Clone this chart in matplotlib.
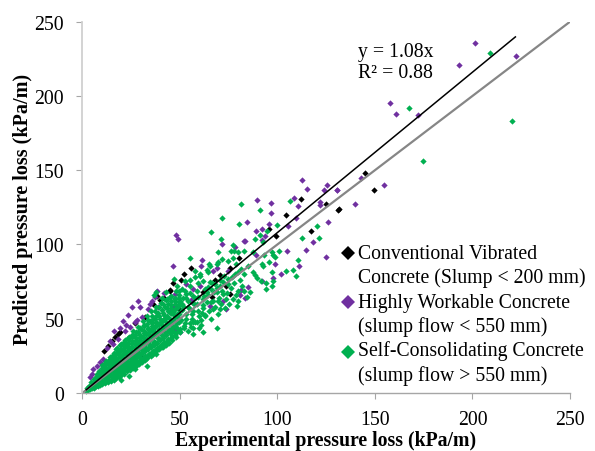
import numpy as np
import matplotlib
matplotlib.use('Agg')
import matplotlib.pyplot as plt

plt.rcParams['font.family'] = ['Liberation Serif', 'DejaVu Serif']

# 读图估计的数据 (实验值, 预测值)
cvc = [(111.9,130.4),(104.2,119.6),(95.8,110.2),(99.4,105.9),(117.3,108.8),(125,127.2),(131.3,123.4),
       (80.4,90.6),(55.7,84.1),(52.1,79.9),(50.4,76),(46.6,74),(75.8,83.9),(70.5,79.4),(68.1,76),
       (75.6,66.4),(66.6,64.4),(62,68.2),(49.7,56.5),(56,61.4),(45.2,68.9),(73.6,72.2),
       (145,147.9),(149.4,136.7),(131.5,123.7),
       (44.9,69.3),(38.1,65),(32.1,50.9),(27,46.9),(18.4,39.7),(16.7,37.4),(13.3,31.8),(11.1,28),
       (40,62.5),(36,60),(19.5,41),(15.2,35),(30,24),(31,23.5),(42,64)]

hwc = [(201.5,235.7),(222.2,226.7),(193.2,220.6),(157.8,195),(160.9,187.9),(172.3,187),
       (130.6,136.5),(142.9,144.8),(154.6,139.9),(139.9,127.3),
       (112.7,143.4),(115.4,137.5),(125.2,140.2),(124,136.9),(130.6,136.9),(108.4,131.5),(89.5,129.9),
       (96.5,127.9),(96.6,121.2),(110.8,125.7),(122.1,128.3),(122.1,126.6),(84.4,115.3),(95.8,113.8),
       (109.8,118),(105.7,112.6),(125.9,114.9),(89,109),(91.9,110.4),(93.6,105.9),(91.9,103.2),
       (82.8,102.1),(83.5,102.5),(48,106.3),(49.2,103.7),(71.7,100.3),(78.4,98),(118.3,101.6),
       (114.6,96),(104.9,95.6),(124.7,91.5),(89,92.9),(46.6,85.7),(61.5,89.3),(98.7,87),(111.2,85.7),
       (102,80.3),(91.9,75.6),(97.9,77.4),(85,71.1),(81.3,69.5),(80.8,66),(83.3,63.9),(73.9,56.5),
       (61.1,85.2),(68.8,83.9),(67.1,82.1),(74.8,82.3),(53.1,73.3),(60.3,72.2),(56.9,70),(65.4,58.8),
       (55.5,62.8),(72.2,62.1),(47.5,66.6),(47,58.3),
       (38.4,68.9),(37.2,64.4),(28.7,62.1),(25.6,57.7),(23.2,52.7),(20.7,48.7),(28.2,49.3),(27,47.5),
       (24.4,44.2),(21.9,41.9),(16.4,41.9),(18.4,36.3),(14.2,35.2),(15.9,33),(10.8,22.9),(7.3,18.4),
       (5.6,16.1),(3.9,10.5),(4.8,12.8),(34.7,59.9),(33.8,56.5),(30.4,50.9),(44.9,54.3),(47.5,43.1),
       (50,40.8),(9.2,21),(12.5,30),(29.5,58),(39,58),(42,67),(35.5,62),(22.5,45.5),(19.5,43.5)]

scc = [(209,228.7),(167.4,192.1),(220.3,183.2),(174.7,156),
       (81.5,127),(106.6,129),(91,123),(71.7,117.6),(80.1,114),(99.7,113.3),(66.2,108.1),(94.8,109.3),
       (91,106.3),(70.9,103.7),(88.5,103.9),(120.4,112.2),(112.5,104.6),(121.2,104.6),(92.7,101.9),
       (77,99.6),(77.7,95.8),(76.3,95.8),(79.9,95.1),(82.8,95.6),(69.7,94.7),(100.9,95.6),(87.6,94.7),
       (97,94.7),(97.9,92.9),(98.7,91.3),(93.2,92.9),(55.1,90.9),(71.4,90.2),(69.7,88.4),(68.8,86.8),
       (74.8,89.1),(77.4,90.6),(78.7,86.8),(85,85.2),(81.6,83.4),(79.9,81.6),(78.2,80.1),(76.5,77.8),
       (65.1,86.8),(65.7,85.2),(63.7,82.8),(64.5,81.2),(60.3,79),(57.7,77.8),(55.1,76.3),(47.1,76.7),
       (52.6,75.6),(62,75.6),(68,73.3),(65.4,74.5),(72.2,74.5),(74.8,73.3),(70.5,72.2),(91.9,86.8),
       (92.4,85.2),(95.8,87.9),(110.7,89.5),(108.1,83),(104.2,82.3),(109.5,79),(97,81.2),(87.6,81.2),
       (88.5,79.4),(89.3,77.2),(91.4,75.6),(94.1,73.8),(97.9,75.1),(97,71.8),(94.4,70),(85.9,68.2),
       (82.8,68.9),(84.2,64.4),(79.9,62.1),(79.1,58.3),(69.7,62.1),(66.2,61),(67.1,56.5),(70.5,56.5),
       (62,57),(62.8,52.5),(59.4,55.4),(55.1,56.5),(51.7,58.8),(50,62.1),(47.5,63.2),(53.1,66.6),
       (56.9,65.5),(59.4,64.4),(63.7,67.7),(66.2,70),(68.8,67.7),(72.2,66.6),(64.5,71.1),(50.9,70),
       (48.3,72.2),(46.6,54.3),(69,44),(57,40),(62,41),(52,45),(57,47.5),(59,47.5),(63,52),
       (38,26),(33,18),(27,16),
       # 密集带
       (2,1.5),(2.5,3.5),(3,2),(3.5,5),(4,2.5),(4.3,4.2),(4.6,7.5),(5,3.2),(5.4,5.6),(5.8,9.5),
       (6,3.5),(6.4,7.2),(6.8,11),(7,4.4),(7.2,6.1),(7.6,9),(8,4.6),(8.2,12.4),(8.4,7.3),(8.7,15),
       (9,5.4),(9.3,9.8),(9.6,13),(9.9,17),(10,6.2),(10.2,8),(10.6,11.4),(11,15.2),(11.3,18.6),
       (11.6,6.9),(11.9,9.4),(12,13),(12.3,16.6),(12.7,20.4),(13,7.6),(13.3,10.8),(13.6,14.2),
       (14,18),(14.2,22.4),(14.5,8.4),(14.8,12),(15,15.6),(15.3,19.6),(15.6,24),(16,9),(16.2,12.6),
       (16.5,17),(16.8,21),(17,26),(17.4,10.2),(17.6,14),(17.9,18),(18,22.5),(18.3,27.6),(18.7,11),
       (19,15),(19.2,19.5),(19.5,24),(19.8,29.6),(20,12.2),(20.3,16.6),(20.6,21),(20.9,26),(21.2,31.6),
       (21.5,13),(21.8,18),(22,22.4),(22.3,27.6),(22.6,33.4),(23,14.6),(23.2,19.4),(23.5,24),(23.8,29),
       (24,35.4),(24.4,15.6),(24.7,20.6),(25,25.6),(25.2,31),(25.5,37.4),(26,17),(26.2,22.2),(26.5,27),
       (26.8,32.8),(27,39),(27.4,18.4),(27.7,23.6),(28,28.6),(28.2,34.6),(28.5,41),(29,19.4),(29.2,25),
       (29.5,30.4),(29.8,36),(30,42.8),(30.4,21),(30.7,26.6),(31,32),(31.3,38),(31.6,45),(32,22),
       (32.2,28),(32.5,33.4),(32.8,39.6),(33,46.6),(33.4,23.6),(33.7,29.4),(34,35),(34.3,41),(34.6,48.4),
       (35,25),(35.2,31),(35.5,36.8),(35.8,43),(36,50),(36.4,26.4),(36.7,32.4),(37,38.6),(37.3,45),
       (37.6,52),(38,28),(38.2,34),(38.5,40),(38.8,46.4),(39,54),(39.4,29.6),(39.7,35.4),(40,42),
       (40.3,48),(40.6,56),(41,31),(41.3,37),(41.6,43.6),(42,50),(42.3,58),(42.7,32.6),(43,39),
       (43.3,45.4),(43.6,52),(44,60),(44.4,34),(44.7,40.6),(45,47),(45.3,54),(45.6,62),(46,36),
       (46.3,42),(46.7,49),(47,56),(47.4,64),(48,37.6),(48.4,44),(48.8,51),(49.2,58),(49.6,66),
       (41.5,30.7),(50,40.8),(52,44),(53,50),(54,42),(55,47),(56,53),(51,60),(53,64),
       (38,68),(37,66),(43,68),(41,64),(58,48),(60,52),(57,44),(61,46),(59,60),(62,63),(20,8.5),(24,11.5),
       # 补空
       (6.9,8.3),(8.9,11.2),(10.8,13.2),(12.2,11.4),(13.1,16.3),(14.7,20.2),(15.4,10.6),(15.9,14.7),
       (16.4,19.1),(17.2,23.7),(17.8,12.4),(18.5,16.2),(18.9,20.9),(19.3,25.8),(20.1,14.4),(20.7,18.8),
       (21.1,23.3),(21.6,28.6),(22.1,16),(22.7,20.4),(23.1,25.6),(23.6,31),(24.2,18.1),(24.8,22.8),
       (25.1,27.9),(25.7,33.8),(26.1,19.6),(26.6,24.6),(27.1,30.1),(27.6,35.8),(28.1,21.2),(28.6,26.6),
       (29.1,32.2),(29.6,38),(30.1,23),(30.6,28.7),(31.1,34.3),(31.7,40.6),(32.1,24.7),(32.6,30.6),
       (33.1,36.5),(33.6,43),(34.1,26.3),(34.6,32.2),(35.1,38.5),(35.6,45),(36.1,28.2),(36.6,34.6),
       (37.1,41),(37.6,47.6),(38.1,30),(38.6,36.8),(39.1,43.4),(39.6,50),(40.1,32),(40.6,38.8),
       (41.1,45.8),(41.7,52.6),(42.1,34.4),(42.6,41),(43.1,47.8),(43.7,55),(44.1,36.3),(44.6,43),
       (45.1,50),(45.7,57.4),(46.1,38.6),(46.6,45.2),(47.1,52.2),(47.6,59.6),(48.1,40.4),(48.6,47.2),
       (49.1,54),(49.7,61.6),(50.3,43),(50.8,49.4),(51.3,56),(51.8,64),(52.4,46.8),(53.4,53),
       (54,57.6),(54.4,62),(55,67),(55.6,44.6),(56.2,50),(56.8,55),(57.4,60),(58,64),(58.6,69),
       (59.2,74),(60,43.6),(60.6,49),(61.2,54),(61.8,59),(62.4,65),(63,70),(64,61),(64.6,66),
       (65.2,55),(65.8,50),(66.4,74),(67,62),(67.6,68),(68.2,58),(68.8,71),(69.4,53),(70,64),
       (70.6,76),(71.2,60),(71.8,69),(72.4,79),(73,57),(73.6,63),(74.2,67),(74.8,77),(75.4,60),
       (76,71),(77,63),(78,74),(79,66),(80,69),(81,76),(82,72),(83,80),(60.5,80),(58,82),(55,72),
       (52.6,68.4),(48,68.6),(45,64.5),(43,62.5),(40.5,60.6),(37.8,58),(35.2,55),(33,52),(30.9,48.2),
       (28.4,44.6),(26,41.6),(24,38),(22,35.6),(20,33),(18,30),(16,27.2),(14,24.5),(12,21.8),(10,18.8)]

# 带中间再补一层, 每行一个 x 值
scc_rows = [(7.5,[5.2,7.8,10.5,13]),(9.5,[6.5,9,12,15]),(11.5,[7.8,11,14,17,20]),
            (13.5,[9,12,15.5,19,22]),(15.5,[11.5,15,18.5,22,25.5]),(17.5,[12.5,16,19.5,23,26.5,29.5]),
            (19.5,[14,17.5,21,25,28.5,32]),(21.5,[15.5,19.5,23,27,30.5,34.5]),(23.5,[17,21,25,29,33,37]),
            (25.5,[19,23,27,31,35,39]),(27.5,[21,25,29,33,37,41]),(29.5,[22,26.5,31,35,39,43.5]),
            (31.5,[24,28.5,33,37,41.5,46]),(33.5,[25.5,30.5,35,39.5,44,49]),(35.5,[27.5,32.5,37.5,42,47,52]),
            (37.5,[29,34.5,39.5,44.5,49.5,55]),(39.5,[31,36.5,41.5,46.5,52,58]),(41.5,[33,38.5,44,49,54,60]),
            (43.5,[35,41,46,51.5,57,63]),(45.5,[37,43,48.5,54,59.5,65]),(47.5,[39,45,51,56.5,62]),
            (49.5,[42,47.5,53,59,64,69])]
for row_x, row_y in scc_rows:
    scc += [(row_x, v) for v in row_y]

fit_x = [2, 222]
slope = 1.08
unity = [0, 250]
ticks = [0, 50, 100, 150, 200, 250]
names = ['Conventional Vibrated\nConcrete (Slump < 200 mm)',
         'Highly Workable Concrete\n(slump flow < 550 mm)',
         'Self-Consolidating Concrete\n(slump flow > 550 mm)']
colors = ['black', '#7030A0', '#00B050']
key_y = [254, 303, 353]
label_y = [266.5, 315.5, 363.5]

fig = plt.figure(figsize=(5.95, 4.52), dpi=100)
ax = fig.add_axes([82.3/595, 1-394/452, (570-82.3)/595, (394-22.7)/452])

for pts, c in zip([cvc, hwc, scc], colors):
    pts = np.array(pts)
    ax.plot(pts[:, 0], pts[:, 1], 'D', color=c, ms=3.2, mew=0, clip_on=False)

ax.plot(unity, unity, color='#868686', lw=1.6)
ax.plot(fit_x, [slope*v for v in fit_x], color='black', lw=1.1)

ax.set_xlim(0, 250)
ax.set_ylim(0, 250)
ax.set_xticks(ticks)
ax.set_yticks(ticks)
ax.tick_params(labelsize=14.2, length=4, width=0.8, color='#A6A6A6')
ax.tick_params(axis='x', pad=8)
ax.tick_params(axis='y', pad=9)
ax.spines['top'].set_visible(False)
ax.spines['right'].set_visible(False)
ax.spines['left'].set_color('#D0D0D0')
ax.spines['left'].set_linewidth(1.3)
ax.spines['bottom'].set_color('#A6A6A6')
ax.spines['bottom'].set_linewidth(1)

fig.text(326/595, 1-441.5/452, 'Experimental pressure loss (kPa/m)', fontsize=14.2, fontweight='bold',
         ha='center', va='center')
fig.text(23/595, 1-209/452, 'Predicted pressure loss (kPa/m)', fontsize=14.5, fontweight='bold',
         rotation=90, ha='center', va='center')
fig.text(358/595, 1-63/452, 'y = 1.08x\nR² = 0.88', fontsize=14.2, ha='left', va='center', linespacing=1.2)

# 图例: 菱形对齐第一行文字
for c, ky, ly, name in zip(colors, key_y, label_y, names):
    fig.add_artist(plt.Line2D([348/595], [1-ky/452], marker='D', color=c, ms=7.4, mew=0, ls='none',
                              transform=fig.transFigure))
    fig.text(358/595, 1-ly/452, name, fontsize=14.2, ha='left', va='center', linespacing=1.32)

fig.savefig('out.png', dpi=100)
